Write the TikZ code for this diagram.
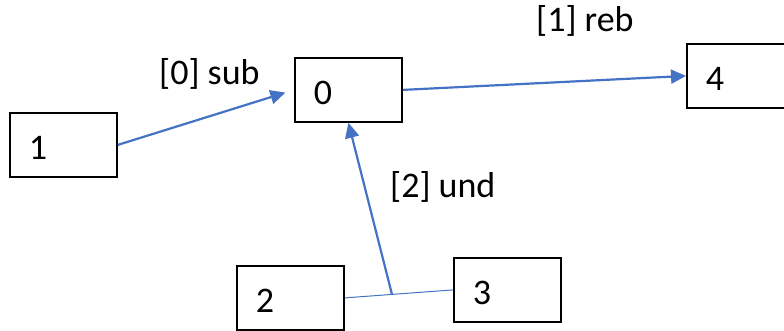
\documentclass[tikz,border=0pt]{standalone}
\usepackage{fontspec}
\setmainfont{Carlito}
\usetikzlibrary{arrows.meta,calc}
\definecolor{linkblue}{HTML}{4472C4}
\begin{document}
\begin{tikzpicture}[x=1pt,y=-1pt,
  box/.style={draw=black, line width=1.8pt, minimum width=107pt, minimum height=64pt,
    text width=69pt, inner xsep=19pt, inner ysep=0pt, align=left,
    text height=30pt, text depth=0pt, font=\fontsize{36}{40}\selectfont, anchor=north west},
  lbl/.style={anchor=base west, inner sep=0pt, font=\fontsize{36}{40}\selectfont},
  link/.style={draw=linkblue, line width=2.2pt, -{Triangle[length=15pt,width=14pt]}},
  thinlink/.style={draw=linkblue, line width=1pt}]
\useasboundingbox (0,0) rectangle (784,331);
\node[box] (n1) at (9,112) {1};
\node[box] (n0) at (294,57) {0};
\node[box] (n4) at (686,43) {4};
\node[box] (n2) at (236,265) {2};
\node[box] (n3) at (453,257) {3};
\node[lbl] (l0) at (159,85) {[0] sub};
\node[lbl] (l1) at (536,32) {[1] reb};
\node[lbl] (l2) at (390,197) {[2] und};
\draw[link, shorten >=9pt] (n1.east) -- (n0.west);
\draw[link] (n0.east) -- (n4.west);
\draw[thinlink] (n2.east) -- (n3.west);
\coordinate (j) at ($(n2.east)!0.436!(n3.west)$);
\draw[link] (j) -- (n0.south);
\end{tikzpicture}
\end{document}
